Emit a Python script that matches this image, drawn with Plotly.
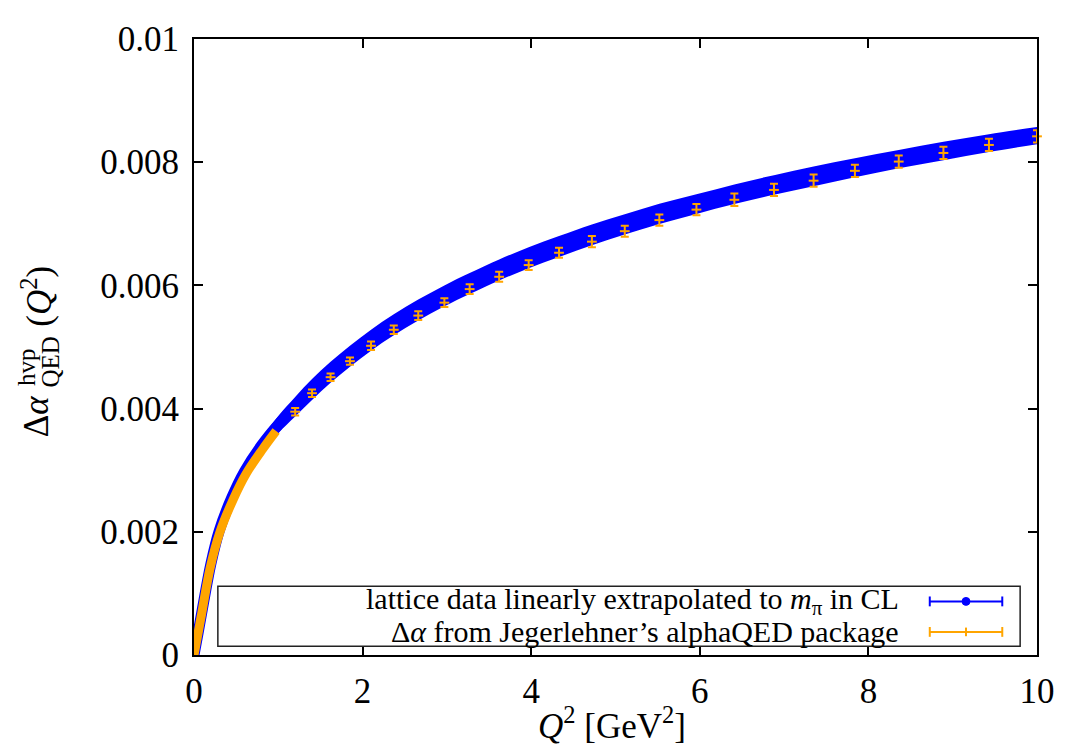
import plotly.graph_objects as go

# ---------------- data ----------------
# lattice data linearly extrapolated to m_pi in CL  (blue band: centre and half-width)
lat_q2 = [0.0, 0.05, 0.1, 0.2, 0.3, 0.45, 0.6, 0.8, 1.0, 1.2, 1.4, 1.62, 1.85, 2.1, 2.37, 2.66,
          2.97, 3.27, 3.62, 3.97, 4.33, 4.72, 5.11, 5.52, 5.96, 6.41, 6.88, 7.35, 7.84, 8.36,
          8.89, 9.43, 10.0]
lat_val = [0.0, 0.00037, 0.00075, 0.00148, 0.00202, 0.00256, 0.00298, 0.00340, 0.00374, 0.00403,
           0.00431, 0.00459, 0.00485, 0.00511, 0.00536, 0.00560, 0.00583, 0.00603, 0.00625, 0.00645,
           0.00663, 0.00682, 0.00699, 0.00716, 0.00732, 0.00748, 0.00763, 0.00777, 0.00791, 0.00805,
           0.00818, 0.00831, 0.00843]
lat_err = [0.0, 0.00002, 0.00003, 0.00004, 0.00005, 0.00006, 0.00008, 0.00011, 0.00014, 0.00016,
           0.00017, 0.00017, 0.00017, 0.00017, 0.00017, 0.00017, 0.00017, 0.00017, 0.00017, 0.00017,
           0.00017, 0.00017, 0.000165, 0.000165, 0.00016, 0.00016, 0.00016, 0.00016, 0.000155, 0.00015,
           0.00015, 0.000145, 0.00014]

# Delta alpha from Jegerlehner's alphaQED package: dense part (Q^2 <= 1)
aq_dense_q2 = [0.0, 0.05, 0.09, 0.19, 0.306, 0.463, 0.62, 0.816, 0.974]
aq_dense_val = [0.0, 0.00037, 0.000664, 0.001406, 0.00199, 0.00252, 0.002946, 0.003344, 0.003635]

# alphaQED sparse points with error bars
aq_q2 = [1.20, 1.40, 1.62, 1.85, 2.10, 2.37, 2.66, 2.97, 3.27, 3.62, 3.97, 4.33,
         4.72, 5.11, 5.52, 5.96, 6.41, 6.88, 7.35, 7.84, 8.36, 8.89, 9.43, 10.0]
aq_val = [0.00395, 0.00425, 0.00451, 0.00477, 0.00502, 0.00528, 0.00551, 0.00572, 0.00594, 0.00614,
          0.00633, 0.00653, 0.00671, 0.00688, 0.00706, 0.00723, 0.00739, 0.00755, 0.00770, 0.00786,
          0.00801, 0.00815, 0.00828, 0.00842]
aq_err = [0.00006, 0.00006, 0.00006, 0.00006, 0.00007, 0.00007, 0.00007, 0.00007, 0.00008, 0.00008,
          0.00008, 0.00008, 0.00009, 0.00009, 0.00009, 0.00009, 0.00010, 0.00010, 0.00010, 0.00010,
          0.00010, 0.00010, 0.00010, 0.00010]

x_ticks = [0, 2, 4, 6, 8, 10]
x_ticktext = ["0", "2", "4", "6", "8", "10"]
y_ticks = [0, 0.002, 0.004, 0.006, 0.008, 0.01]
y_ticktext = ["0", "0.002", "0.004", "0.006", "0.008", "0.01"]

legend_labels = ["lattice data linearly extrapolated to <i>m</i><sub>π</sub> in CL",
                 "Δ<i>α</i> from Jegerlehner’s alphaQED package"]

BLUE = "#0000ff"
ORANGE = "#ffa500"
FONT = "Liberation Serif"
FS = 35
FS_LEG = 30

fig = go.Figure()

lo = [v - e for v, e in zip(lat_val, lat_err)]
hi = [v + e for v, e in zip(lat_val, lat_err)]
fig.add_trace(go.Scatter(x=lat_q2, y=lo, mode="lines", line=dict(width=0, color=BLUE, shape="spline"),
                         showlegend=False, hoverinfo="skip"))
fig.add_trace(go.Scatter(x=lat_q2, y=hi, mode="lines", line=dict(width=0, color=BLUE, shape="spline"),
                         fill="tonexty", fillcolor=BLUE, showlegend=False, hoverinfo="skip"))
fig.add_trace(go.Scatter(x=lat_q2, y=lat_val, mode="lines", line=dict(width=11, color=BLUE, shape="spline"),
                         showlegend=False, cliponaxis=False))
fig.add_trace(go.Scatter(x=aq_dense_q2, y=aq_dense_val, mode="lines",
                         line=dict(width=9, color=ORANGE, shape="spline"),
                         showlegend=False, cliponaxis=False))
fig.add_trace(go.Scatter(x=aq_q2, y=aq_val, mode="markers",
                         marker=dict(symbol="line-ew", size=7, color=ORANGE, line=dict(width=2, color=ORANGE)),
                         error_y=dict(type="data", array=aq_err, color=ORANGE, thickness=2, width=4),
                         showlegend=False, cliponaxis=False))

axis_common = dict(showline=True, linecolor="black", linewidth=2, mirror="ticks", ticks="inside",
                   ticklen=9, tickwidth=1.5, tickcolor="black", showgrid=False, zeroline=False,
                   tickfont=dict(family=FONT, size=FS, color="black"))
fig.update_xaxes(range=[0, 10], tickvals=x_ticks, ticktext=x_ticktext, ticklabelstandoff=4, **axis_common)
fig.update_yaxes(range=[0, 0.01], tickvals=y_ticks, ticktext=y_ticktext, ticklabelstandoff=6, **axis_common)

# legend box, samples and text (paper coordinates)
shapes = []
shapes.append(dict(type="rect", xref="paper", yref="paper", x0=0.0283, x1=0.980, y0=0.0143, y1=0.1115,
                   line=dict(color="#222222", width=1.5), fillcolor="white", layer="above"))
ly = [0.0870, 0.0375]
for yy, col in zip(ly, [BLUE, ORANGE]):
    shapes.append(dict(type="line", xref="paper", yref="paper", x0=0.8728, x1=0.9588, y0=yy, y1=yy,
                       line=dict(color=col, width=2), layer="above"))
    for xx in (0.8728, 0.9588):
        shapes.append(dict(type="line", xref="paper", yref="paper", x0=xx, x1=xx, y0=yy - 0.008, y1=yy + 0.008,
                           line=dict(color=col, width=2), layer="above"))
shapes.append(dict(type="circle", xref="paper", yref="paper", x0=0.9158 - 0.0047, x1=0.9158 + 0.0047,
                   y0=ly[0] - 0.0064, y1=ly[0] + 0.0064, line=dict(color=BLUE, width=1), fillcolor=BLUE,
                   layer="above"))
shapes.append(dict(type="line", xref="paper", yref="paper", x0=0.9158, x1=0.9158, y0=ly[1] - 0.007,
                   y1=ly[1] + 0.007, line=dict(color=ORANGE, width=2), layer="above"))

annotations = []
for yy, txt in zip(ly, legend_labels):
    annotations.append(dict(xref="paper", yref="paper", x=0.8386, y=yy, xanchor="right", yanchor="middle",
                            text=txt, showarrow=False, font=dict(family=FONT, size=FS_LEG, color="black")))

# x title
annotations.append(dict(xref="paper", yref="paper", x=0.496, y=-0.111, xanchor="center", yanchor="middle",
                        text="<i>Q</i><sup>2</sup> [GeV<sup>2</sup>]", showarrow=False,
                        font=dict(family=FONT, size=35, color="black")))
# y title (rotated, stacked super/subscript)
yt = [("Δ<i>α</i>", -0.186, 0.388, FS), ("hvp", -0.199, 0.468, 25), ("QED", -0.170, 0.476, 25),
      ("(<i>Q</i><sup>2</sup>)", -0.186, 0.582, FS)]
for txt, xx, yy, fs in yt:
    annotations.append(dict(xref="paper", yref="paper", x=xx, y=yy, xanchor="center", yanchor="middle",
                            text=txt, textangle=-90, showarrow=False,
                            font=dict(family=FONT, size=fs, color="black")))

# page body adds an 8 px offset; figure is sized so that the plot frame lands at the reference position
fig.update_layout(width=1059, height=741, margin=dict(l=186, r=24, t=19, b=94),
                  plot_bgcolor="white", paper_bgcolor="white", showlegend=False,
                  shapes=shapes, annotations=annotations,
                  font=dict(family=FONT, size=FS, color="black"))

fig.write_html("out.html")
